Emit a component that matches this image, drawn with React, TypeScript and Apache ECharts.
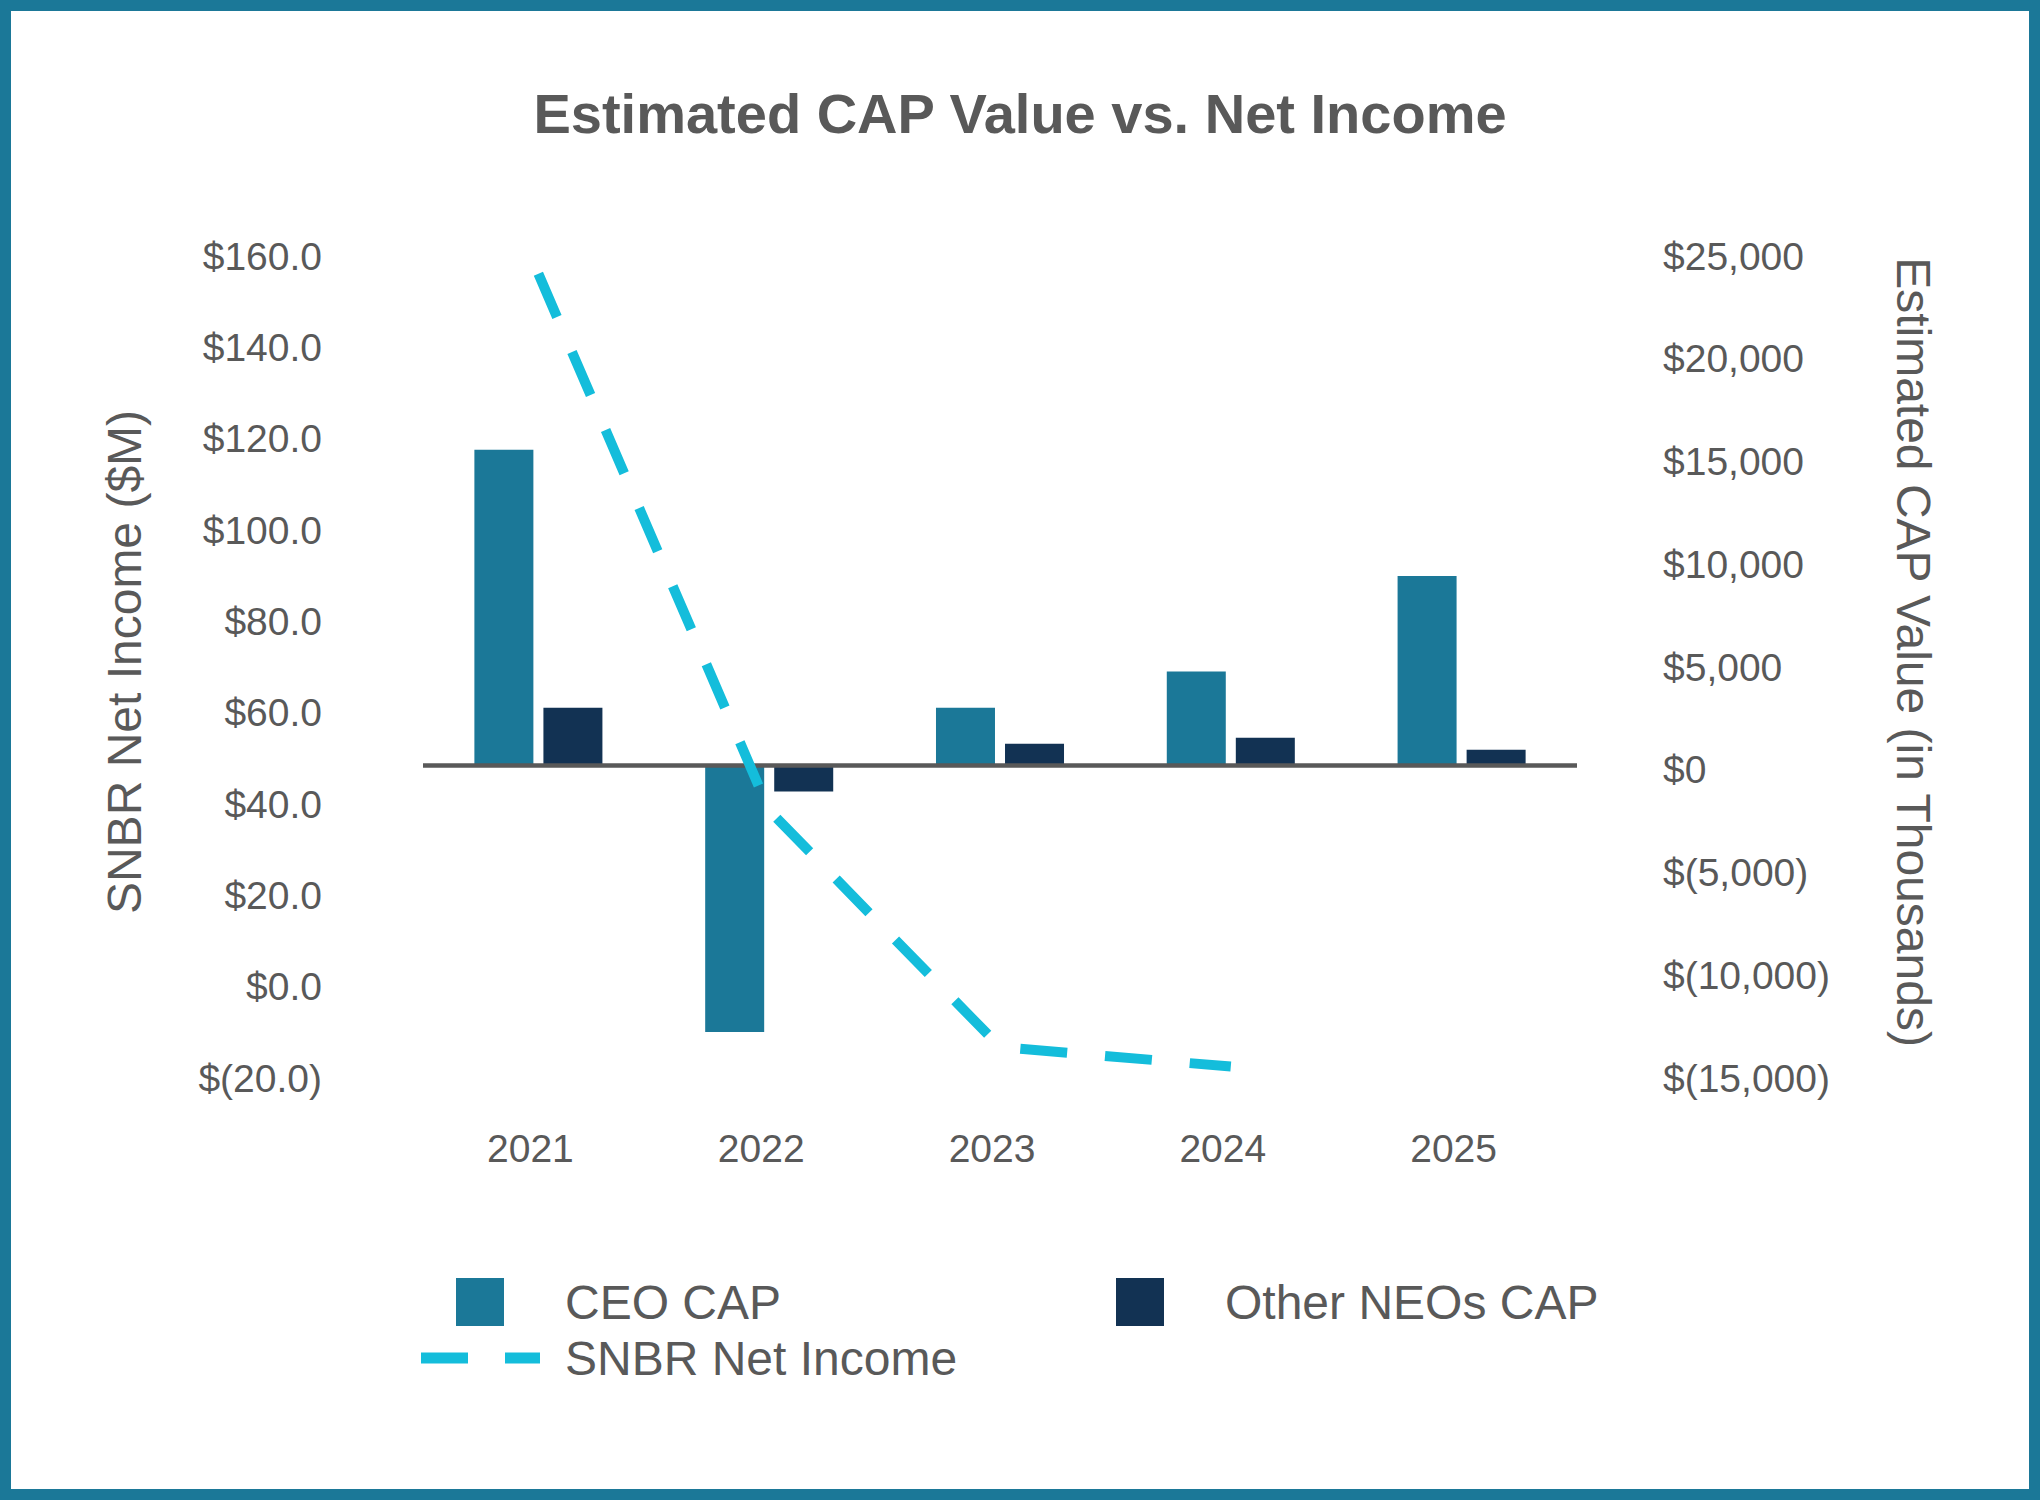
import React, { useEffect, useRef } from "react";
import * as echarts from "echarts";

// ---- Data ----
const categories = ["2021", "2022", "2023", "2024", "2025"];
// Estimated CAP Value (in thousands of $) – right axis
const ceoCap = [15330, -13000, 2770, 4540, 9190];
const otherNeosCap = [2770, -1300, 1020, 1310, 730];
// SNBR Net Income ($M) – left axis
const netIncome: (number | null)[] = [155.0, 37.5, -14.3, -18.6, null];

// Axis ranges
const leftAxisRange = { min: -20, max: 160, interval: 20 };
const rightAxisRange = { min: -15000, max: 25000, interval: 5000 };

const FONT = "'Liberation Sans', Arial, Helvetica, sans-serif";
const TEXT = "#595959";
const CEO_COLOR = "#1B7898";
const NEO_COLOR = "#123253";
const LINE_COLOR = "#14BDDB";

const DASH_ICON = "path://M0,0h47v11h-47z M84,0h35v11h-35z";

const fmtLeft = (v: number) =>
  v < 0 ? `$(${(-v).toFixed(1)})` : `$${v.toFixed(1)}`;
const fmtRight = (v: number) => {
  const s = Math.abs(v).toLocaleString("en-US");
  return v < 0 ? `$(${s})` : `$${s}`;
};

export default function App() {
  const ref = useRef<HTMLDivElement>(null);

  useEffect(() => {
    document.body.style.margin = "0";
    if (!ref.current) return;
    const chart = echarts.init(ref.current, undefined, { renderer: "svg" });

    const legendText = { fontSize: 48, color: TEXT, fontFamily: FONT };

    chart.setOption({
      animation: false,
      backgroundColor: "#ffffff",
      textStyle: { fontFamily: FONT },
      title: {
        text: "Estimated CAP Value vs. Net Income",
        left: "center",
        top: 80,
        textStyle: {
          fontSize: 56,
          fontWeight: "bold",
          color: TEXT,
          fontFamily: FONT,
        },
      },
      graphic: [
        {
          type: "rect",
          shape: { x: 5.5, y: 5.5, width: 2029, height: 1489 },
          style: { fill: "none", stroke: CEO_COLOR, lineWidth: 11 },
          silent: true,
          z: 100,
        },
      ],
      legend: [
        {
          data: [{ name: "CEO CAP", icon: "rect" }],
          left: 456,
          top: 1278,
          padding: 0,
          itemWidth: 48,
          itemHeight: 48,
          textStyle: { ...legendText, padding: [0, 0, 0, 56] },
          selectedMode: false,
        },
        {
          data: [{ name: "Other NEOs CAP", icon: "rect" }],
          left: 1116,
          top: 1278,
          padding: 0,
          itemWidth: 48,
          itemHeight: 48,
          textStyle: { ...legendText, padding: [0, 0, 0, 56] },
          selectedMode: false,
        },
        {
          data: [{ name: "SNBR Net Income", icon: DASH_ICON }],
          left: 421,
          top: 1334,
          padding: 0,
          itemWidth: 119,
          itemHeight: 48,
          itemStyle: { color: LINE_COLOR, borderWidth: 0 },
          textStyle: { ...legendText, padding: [0, 0, 0, 20] },
          selectedMode: false,
        },
      ],
      grid: {
        left: 423,
        right: 463,
        top: 251,
        bottom: 427,
        containLabel: false,
      },
      xAxis: {
        type: "category",
        data: categories,
        axisLine: { show: false },
        axisTick: { show: false },
        splitLine: { show: false },
        axisLabel: {
          fontSize: 39,
          color: TEXT,
          fontFamily: FONT,
          margin: 56,
          padding: [0, 16, 0, 0],
        },
      },
      yAxis: [
        {
          type: "value",
          position: "left",
          min: leftAxisRange.min,
          max: leftAxisRange.max,
          interval: leftAxisRange.interval,
          name: "SNBR Net Income ($M)",
          nameLocation: "middle",
          nameRotate: 90,
          nameGap: 275,
          nameTextStyle: { fontSize: 48, color: TEXT, fontFamily: FONT },
          axisLine: { show: false },
          axisTick: { show: false },
          splitLine: { show: false },
          axisLabel: {
            fontSize: 39,
            color: TEXT,
            fontFamily: FONT,
            margin: 101,
            verticalAlign: "top",
            lineHeight: 10,
            formatter: fmtLeft,
          },
        },
        {
          type: "value",
          position: "right",
          min: rightAxisRange.min,
          max: rightAxisRange.max,
          interval: rightAxisRange.interval,
          name: "Estimated CAP Value (in Thousands)",
          nameLocation: "middle",
          nameRotate: -90,
          nameGap: 312,
          nameTextStyle: {
            fontSize: 48,
            color: TEXT,
            fontFamily: FONT,
            padding: [0, 20, 0, 0],
          },
          axisLine: { show: false },
          axisTick: { show: false },
          splitLine: { show: false },
          axisLabel: {
            fontSize: 39,
            color: TEXT,
            fontFamily: FONT,
            margin: 86,
            verticalAlign: "top",
            lineHeight: 10,
            formatter: fmtRight,
          },
        },
      ],
      series: [
        {
          name: "CEO CAP",
          type: "bar",
          yAxisIndex: 1,
          data: ceoCap,
          barWidth: 59,
          barGap: "17%",
          itemStyle: { color: CEO_COLOR },
          markLine: {
            silent: true,
            symbol: "none",
            label: { show: false },
            lineStyle: { color: TEXT, width: 4.5, type: "solid" },
            data: [{ yAxis: 0 }],
          },
        },
        {
          name: "Other NEOs CAP",
          type: "bar",
          yAxisIndex: 1,
          data: otherNeosCap,
          barWidth: 59,
          barGap: "17%",
          itemStyle: { color: NEO_COLOR },
        },
        {
          name: "SNBR Net Income",
          type: "line",
          yAxisIndex: 0,
          data: netIncome,
          symbol: "none",
          showSymbol: false,
          z: 5,
          lineStyle: {
            color: LINE_COLOR,
            width: 10,
            type: [47, 38],
            cap: "butt",
            join: "miter",
          },
          itemStyle: { color: LINE_COLOR },
        },
      ],
    });

    return () => {
      chart.dispose();
    };
  }, []);

  return (
    <div
      ref={ref}
      style={{
        position: "absolute",
        left: 0,
        top: 0,
        width: 2040,
        height: 1500,
      }}
    />
  );
}
